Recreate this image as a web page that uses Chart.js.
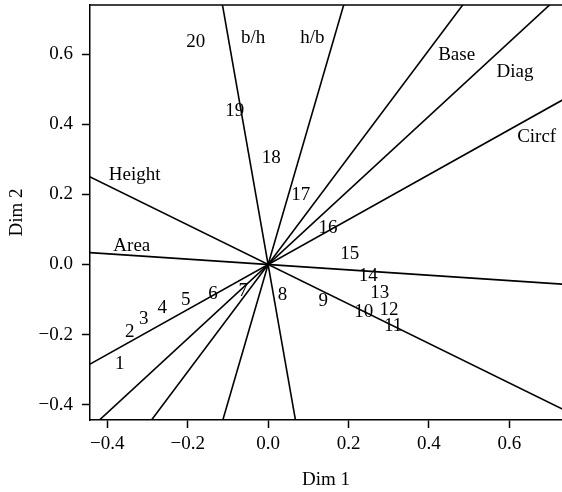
<!DOCTYPE html>
<html lang="en">
<head>
    <meta charset="UTF-8">
    <title>Biplot</title>
    <style>
        body {
            margin: 0;
            background: #fff;
        }

        .chart-box {
            width: 562px;
            height: 492px;
        }
    </style>
</head>
<body>
<div class="chart-box">
    <canvas id="biplot"></canvas>
</div>
<script src="https://cdn.jsdelivr.net/npm/chart.js"></script>
<script>
    // object scores, written as their numbers
    const objLabels = ['1', '2', '3', '4', '5', '6', '7', '8', '9', '10',
        '11', '12', '13', '14', '15', '16', '17', '18', '19', '20'];
    const objX = [-0.369, -0.344, -0.309, -0.263, -0.205, -0.137, -0.062, 0.036, 0.137, 0.238,
        0.311, 0.301, 0.278, 0.249, 0.203, 0.149, 0.081, 0.008, -0.083, -0.180];
    const objY = [-0.283, -0.193, -0.157, -0.124, -0.100, -0.085, -0.075, -0.087, -0.105, -0.137,
        -0.176, -0.129, -0.081, -0.032, 0.029, 0.103, 0.198, 0.305, 0.439, 0.636];

    // variables: direction of each line through the origin
    const varNames = ['Height', 'Area', 'Circf', 'Diag', 'Base', 'h/b', 'b/h'];
    const varDirX = [-0.443, 0.731, 0.731, 0.700, 0.484, 0.188, -0.1135];
    const varDirY = [0.250, -0.056, 0.469, 0.741, 0.741, 0.741, 0.741];
    // where the variable names sit
    const varLabX = [-0.332, -0.339, 0.668, 0.614, 0.469, 0.110, -0.037];
    const varLabY = [0.255, 0.053, 0.365, 0.550, 0.598, 0.646, 0.646];

    const xTicks = [-0.4, -0.2, 0.0, 0.2, 0.4, 0.6];
    const yTicks = [-0.4, -0.2, 0.0, 0.2, 0.4, 0.6];

    Chart.defaults.font.family = '"Liberation Serif", serif';
    Chart.defaults.font.size = 19;
    Chart.defaults.color = '#000';

    const datasets = [];
    varNames.forEach(function (name, i) {
        datasets.push({
            label: name,
            data: [{x: -5 * varDirX[i], y: -5 * varDirY[i]}, {x: 5 * varDirX[i], y: 5 * varDirY[i]}],
            showLine: true,
            borderColor: '#000',
            borderWidth: 1.6,
            pointRadius: 0
        });
    });
    datasets.push({
        label: 'objects',
        data: objX.map((x, i) => ({x: x, y: objY[i]})),
        texts: objLabels,
        pointRadius: 0
    });
    datasets.push({
        label: 'names',
        data: varLabX.map((x, i) => ({x: x, y: varLabY[i]})),
        texts: varNames,
        pointRadius: 0
    });

    // writes the text of the two label datasets at their points
    const textLabels = {
        id: 'textLabels',
        afterDatasetsDraw(chart) {
            const ctx = chart.ctx;
            ctx.save();
            ctx.fillStyle = '#000';
            ctx.font = '19px "Liberation Serif", serif';
            ctx.textAlign = 'center';
            ctx.textBaseline = 'middle';
            chart.data.datasets.forEach(function (ds, i) {
                if (!ds.texts) return;
                chart.getDatasetMeta(i).data.forEach(function (pt, j) {
                    ctx.fillText(ds.texts[j], pt.x, pt.y);
                });
            });
            // top edge of the box
            const a = chart.chartArea;
            ctx.strokeStyle = '#000';
            ctx.lineWidth = 1.5;
            ctx.beginPath();
            ctx.moveTo(a.left, a.top);
            ctx.lineTo(a.right, a.top);
            ctx.stroke();
            ctx.restore();
        }
    };

    const fmt = v => Number(v).toFixed(1).replace('-', '\u2212');

    new Chart(document.getElementById('biplot'), {
        type: 'scatter',
        data: {datasets: datasets},
        plugins: [textLabels],
        options: {
            responsive: true,
            maintainAspectRatio: false,
            animation: false,
            layout: {padding: {top: 5, right: 0, left: 0, bottom: 0}},
            plugins: {
                legend: {display: false},
                tooltip: {enabled: false}
            },
            scales: {
                x: {
                    type: 'linear',
                    min: -0.443,
                    max: 0.731,
                    afterBuildTicks: s => { s.ticks = xTicks.map(v => ({value: v})); },
                    afterFit: s => { s.height = 72; s.paddingLeft = 0; s.paddingRight = 0; },
                    grid: {drawOnChartArea: false, tickLength: 8, tickColor: '#000', tickWidth: 1.5},
                    border: {color: '#000', width: 1.5},
                    ticks: {callback: fmt, padding: 5, maxRotation: 0},
                    title: {display: true, text: 'Dim 1', padding: {top: 0, bottom: 1}}
                },
                y: {
                    type: 'linear',
                    min: -0.444,
                    max: 0.741,
                    afterBuildTicks: s => { s.ticks = yTicks.map(v => ({value: v})); },
                    afterFit: s => { s.width = 90; s.paddingTop = 0; s.paddingBottom = 0; },
                    grid: {drawOnChartArea: false, tickLength: 8, tickColor: '#000', tickWidth: 1.5},
                    border: {color: '#000', width: 1.5},
                    ticks: {callback: fmt, padding: 9},
                    title: {display: true, text: 'Dim 2', padding: {top: 6, bottom: 0}}
                }
            }
        }
    });
</script>
</body>
</html>
